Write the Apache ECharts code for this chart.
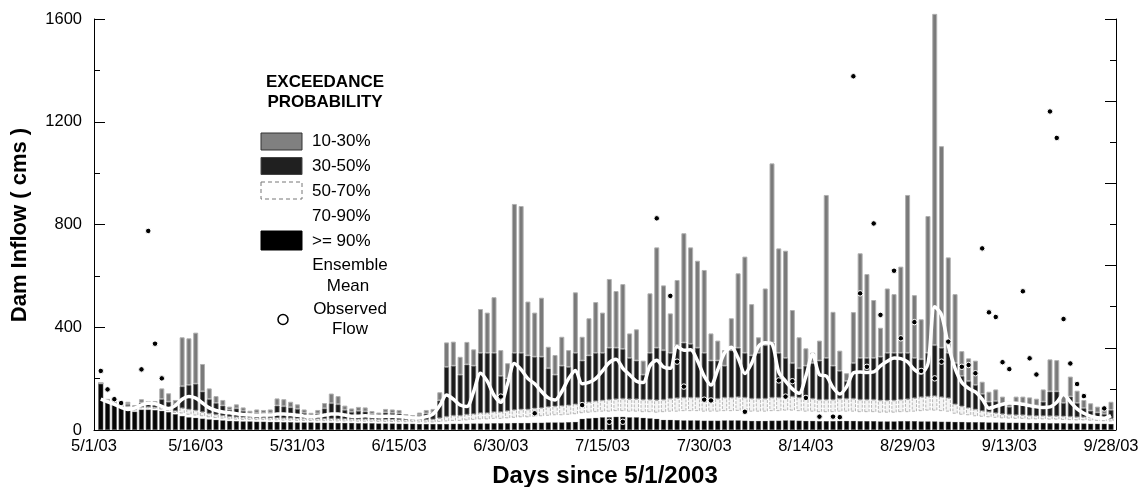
<!DOCTYPE html>
<html>
<head>
<meta charset="utf-8">
<script src="https://cdn.jsdelivr.net/npm/echarts@6/dist/echarts.min.js"></script>
<style>
  html, body { margin: 0; padding: 0; background: #fff; }
  #chart { width: 1145px; height: 487px; }
</style>
</head>
<body>
<div id="chart"></div>
<script>
// Forecast dam inflow (cms) per day since 5/1/2003: exceedance-probability quantiles,
// ensemble mean and observed flow.
const TICK_LABELS = ['5/1/03', '5/16/03', '5/31/03', '6/15/03', '6/30/03', '7/15/03',
  '7/30/03', '8/14/03', '8/29/03', '9/13/03', '9/28/03'];
const FIRST_DAY = 1;   // bars run from day 1 to day 150

// flow exceeded with 10% probability (top of each bar)
const Q10 = [182,120,110,106,110,97,120,113,113,162,
  143,117,361,357,379,257,162,132,117,91,
  100,88,75,80,78,80,123,120,110,100,
  80,67,78,105,142,132,95,84,90,88,
  74,68,82,80,78,62,58,68,78,82,
  147,341,344,285,343,314,471,457,517,311,
  260,880,872,500,457,515,324,292,363,311,
  536,363,435,498,457,588,541,568,376,392,
  270,532,711,563,454,584,766,711,659,623,
  376,348,311,435,610,675,490,361,551,1038,
  707,698,467,361,318,301,348,915,460,309,
  221,459,688,607,506,398,551,529,636,915,
  525,431,833,1620,1105,672,529,307,279,270,
  188,149,158,130,110,130,130,127,122,158,
  275,272,140,208,153,117,104,91,84,110];

// flow exceeded with 30% probability
const Q30 = [182,118,106,102,100,88,106,100,100,120,
  110,100,170,175,180,150,120,105,95,78,
  84,74,64,66,65,66,95,92,88,82,
  66,57,64,84,104,100,78,70,74,72,
  62,57,68,66,64,53,50,57,64,68,
  115,245,250,215,255,250,300,300,300,210,
  200,300,300,290,285,285,240,215,250,245,
  300,270,290,300,300,320,320,315,280,270,
  215,300,320,310,300,330,340,335,320,300,
  270,270,250,310,320,300,290,300,330,340,
  300,280,260,240,250,260,270,280,250,230,
  190,260,280,280,280,285,300,300,300,300,
  280,275,300,330,320,300,260,210,190,175,
  140,110,112,100,90,100,100,98,95,110,
  150,150,105,130,105,85,75,68,62,78];

// flow exceeded with 50% probability
const Q50 = [182,116,104,99,94,80,90,90,88,86,
  82,74,85,80,76,70,64,60,56,52,
  50,49,49,48,48,47,47,46,46,45,
  45,45,44,44,44,43,43,43,42,42,
  42,41,41,41,40,40,40,40,40,41,
  46,52,56,56,60,62,66,66,70,70,
  74,78,80,80,84,86,90,92,94,96,
  100,105,108,112,115,118,120,122,120,120,
  118,118,116,118,122,124,126,126,126,122,
  122,122,126,126,128,126,122,122,122,126,
  126,130,130,126,122,122,118,118,118,122,
  122,122,118,118,118,115,115,115,118,120,
  124,128,130,132,128,124,100,92,86,80,
  74,70,66,62,60,58,58,56,55,55,
  54,54,53,52,50,50,49,48,46,44];

// flow exceeded with 70% probability
const Q70 = [181,114,102,97,90,76,85,85,83,80,
  75,67,65,60,57,54,50,47,45,42,
  41,40,40,39,39,38,38,37,37,36,
  36,36,35,35,35,34,34,34,33,33,
  33,32,32,32,31,31,31,30,30,30,
  32,34,36,36,38,40,42,42,44,44,
  46,48,50,50,52,54,56,58,58,60,
  62,66,68,70,72,72,74,74,72,72,
  70,70,68,70,72,72,74,74,74,72,
  72,72,74,74,75,74,72,72,72,74,
  74,76,76,74,72,72,70,70,70,72,
  72,72,70,70,70,68,68,68,70,70,
  72,74,76,76,74,72,64,60,58,54,
  52,50,48,46,45,44,44,42,42,42,
  41,41,40,39,38,38,37,36,35,34];

// flow exceeded with 90% probability (bottom block)
const Q90 = [180,112,100,95,86,72,80,80,78,75,
  70,62,55,50,48,45,42,40,38,36,
  35,34,34,33,33,32,32,31,31,30,
  30,30,29,29,29,28,28,28,27,27,
  27,26,26,26,25,25,25,24,24,24,
  24,24,25,25,25,26,26,26,27,27,
  27,28,28,28,29,29,30,30,30,31,
  32,44,46,48,50,50,52,52,50,50,
  48,46,44,40,40,39,38,38,38,37,
  37,37,38,38,38,37,36,36,36,37,
  37,38,38,37,36,36,35,35,35,36,
  36,36,35,35,35,34,34,34,35,35,
  35,34,34,34,33,33,32,32,31,31,
  31,30,30,30,29,29,29,28,28,28,
  27,27,27,26,26,26,25,25,25,24];

// ensemble mean
const MEAN = [120,110,100,88,80,85,98,104,102,92,
  84,95,120,130,124,105,86,76,70,67,
  63,60,58,57,58,58,62,62,60,57,
  54,52,54,58,62,62,58,54,54,55,
  54,52,54,54,52,50,47,47,52,62,
  95,136,120,97,91,150,221,190,135,108,
  180,259,235,200,180,150,125,117,150,200,
  232,180,185,200,230,262,275,240,215,190,
  185,250,272,245,240,325,310,312,270,210,
  175,235,300,322,280,220,260,325,340,335,
  225,190,160,143,210,295,215,210,165,140,
  168,222,226,224,226,250,268,280,278,265,
  235,222,258,480,448,330,240,185,162,148,
  120,85,92,100,105,104,100,95,90,88,
  90,108,138,110,82,65,54,48,46,56];

// observed flow: day since 5/1/2003 and flow
const OBS_DAY = [1,2,3,4,7,8,9,10,
  60,65,72,76,78,83,85,86,87,90,91,96,
  101,102,103,105,107,109,110,112,113,114,115,116,118,119,121,122,124,125,126,
  128,129,130,131,132,133,134,135,137,138,139,141,142,143,144,145,146,149];
const OBS_FLOW = [230,158,120,105,236,775,336,201,
  130,65,97,32,32,824,522,266,169,118,115,71,
  193,130,190,125,52,52,50,1377,532,246,804,448,620,357,420,230,201,266,344,
  246,253,221,707,458,440,264,237,540,279,216,1240,1137,432,259,179,132,84];

const FONT = '"Liberation Sans", Arial, Helvetica, sans-serif';
const N_DAYS = 151;
const categories = Array.from({ length: N_DAYS }, (_, i) => i);

// place a per-bar array onto the day axis
function onAxis(arr) {
  const out = new Array(N_DAYS).fill(null);
  arr.forEach((v, i) => { out[FIRST_DAY + i] = v; });
  return out;
}
// stacked segment heights between consecutive quantiles
function seg(top, bottom) {
  return onAxis(top.map((v, i) => Math.max(0, v - (bottom ? bottom[i] : 0))));
}

const barBase = { type: 'bar', stack: 'q', barWidth: 5, clip: false, silent: true,
  animation: false };

const chart = echarts.init(document.getElementById('chart'), null, { renderer: 'canvas' });
chart.setOption({
  backgroundColor: '#fff',
  animation: false,
  grid: { left: 94, right: 34, top: 19, bottom: 57 },
  xAxis: {
    type: 'category',
    data: categories,
    boundaryGap: false,
    axisLine: { lineStyle: { color: '#000', width: 1 } },
    axisTick: { show: false },
    axisLabel: {
      interval: 14, margin: 8, color: '#000', fontSize: 16.5, fontFamily: FONT,
      formatter: (v, i) => TICK_LABELS[Math.round(i / 15)] || ''
    },
    splitLine: { show: false }
  },
  yAxis: [{
    type: 'value', min: 0, max: 1600, interval: 400,
    axisLine: { show: true, lineStyle: { color: '#000', width: 1 } },
    axisTick: { show: true, inside: true, length: 11, lineStyle: { color: '#000' } },
    minorTick: { show: true, splitNumber: 2, length: 6, lineStyle: { color: '#000' } },
    axisLabel: { color: '#000', fontSize: 16.5, fontFamily: FONT, margin: 12,
      formatter: v => String(v) },
    splitLine: { show: false }
  }, {
    type: 'value', min: 0, max: 10, interval: 2, position: 'right', offset: 5,
    axisLine: { show: true, lineStyle: { color: '#000', width: 1 } },
    axisTick: { show: true, inside: true, length: 11, lineStyle: { color: '#000' } },
    minorTick: { show: true, splitNumber: 2, length: 6, lineStyle: { color: '#000' } },
    axisLabel: { show: false },
    splitLine: { show: false }
  }],
  series: [
    Object.assign({}, barBase, { name: '>= 90%', data: seg(Q90),
      itemStyle: { color: '#050505', borderColor: '#555', borderWidth: 0.6 } }),
    Object.assign({}, barBase, { name: '70-90%', data: seg(Q70, Q90),
      itemStyle: { color: '#ffffff', borderWidth: 0 } }),
    Object.assign({}, barBase, { name: '50-70%', data: seg(Q50, Q70),
      itemStyle: { color: '#f4f4f4', borderColor: '#9a9a9a', borderWidth: 0.7, borderType: 'dashed' } }),
    Object.assign({}, barBase, { name: '30-50%', data: seg(Q30, Q50),
      itemStyle: { color: '#1b1b1b', borderColor: '#6a6a6a', borderWidth: 0.8 } }),
    Object.assign({}, barBase, { name: '10-30%', data: seg(Q10, Q30),
      itemStyle: { color: '#7a7a7a', borderColor: '#b0b0b0', borderWidth: 1 } }),
    {
      name: 'Ensemble Mean', type: 'line', data: onAxis(MEAN), symbol: 'none',
      smooth: 0.3, silent: true, z: 5, animation: false,
      lineStyle: { color: '#ffffff', width: 3.5 }
    },
    {
      name: 'Observed Flow', type: 'scatter', symbol: 'circle', symbolSize: 5.5,
      data: OBS_DAY.map((d, i) => [d, OBS_FLOW[i]]), silent: true, z: 6, animation: false,
      itemStyle: { color: '#000000', borderColor: '#ffffff', borderWidth: 1, opacity: 1 }
    }
  ],
  graphic: [
    { type: 'text', x: 20, y: 225, rotation: Math.PI / 2,
      style: { text: 'Dam Inflow ( cms )', font: 'bold 22px ' + FONT, fill: '#000',
        align: 'center', verticalAlign: 'middle' } },
    { type: 'text', x: 605, y: 476,
      style: { text: 'Days since 5/1/2003', font: 'bold 24px ' + FONT, fill: '#000',
        align: 'center', verticalAlign: 'middle' } },
    // legend
    { type: 'text', x: 325, y: 82,
      style: { text: 'EXCEEDANCE', font: 'bold 17px ' + FONT, fill: '#000',
        align: 'center', verticalAlign: 'middle' } },
    { type: 'text', x: 325, y: 102,
      style: { text: 'PROBABILITY', font: 'bold 17px ' + FONT, fill: '#000',
        align: 'center', verticalAlign: 'middle' } },
    { type: 'rect', shape: { x: 261, y: 133, width: 41, height: 17 },
      style: { fill: '#808080', stroke: '#333', lineWidth: 1 } },
    { type: 'rect', shape: { x: 261, y: 157.5, width: 41, height: 17 },
      style: { fill: '#202020', stroke: '#444', lineWidth: 1 } },
    { type: 'rect', shape: { x: 261, y: 182, width: 41, height: 17 },
      style: { fill: '#fff', stroke: '#777', lineWidth: 1, lineDash: [4, 3] } },
    { type: 'rect', shape: { x: 261, y: 231, width: 41, height: 19 },
      style: { fill: '#000', stroke: '#000', lineWidth: 1 } },
    { type: 'circle', shape: { cx: 283, cy: 319.5, r: 5 },
      style: { fill: '#fff', stroke: '#000', lineWidth: 1.5 } },
    { type: 'text', x: 312, y: 141.5,
      style: { text: '10-30%', font: '17px ' + FONT, fill: '#000', align: 'left', verticalAlign: 'middle' } },
    { type: 'text', x: 312, y: 166.5,
      style: { text: '30-50%', font: '17px ' + FONT, fill: '#000', align: 'left', verticalAlign: 'middle' } },
    { type: 'text', x: 312, y: 191.5,
      style: { text: '50-70%', font: '17px ' + FONT, fill: '#000', align: 'left', verticalAlign: 'middle' } },
    { type: 'text', x: 312, y: 216,
      style: { text: '70-90%', font: '17px ' + FONT, fill: '#000', align: 'left', verticalAlign: 'middle' } },
    { type: 'text', x: 312, y: 241,
      style: { text: '>= 90%', font: '17px ' + FONT, fill: '#000', align: 'left', verticalAlign: 'middle' } },
    { type: 'text', x: 350, y: 265,
      style: { text: 'Ensemble', font: '17px ' + FONT, fill: '#000', align: 'center', verticalAlign: 'middle' } },
    { type: 'text', x: 348, y: 286,
      style: { text: 'Mean', font: '17px ' + FONT, fill: '#000', align: 'center', verticalAlign: 'middle' } },
    { type: 'text', x: 350, y: 309.5,
      style: { text: 'Observed', font: '17px ' + FONT, fill: '#000', align: 'center', verticalAlign: 'middle' } },
    { type: 'text', x: 350, y: 329.5,
      style: { text: 'Flow', font: '17px ' + FONT, fill: '#000', align: 'center', verticalAlign: 'middle' } }
  ]
});
</script>
</body>
</html>
